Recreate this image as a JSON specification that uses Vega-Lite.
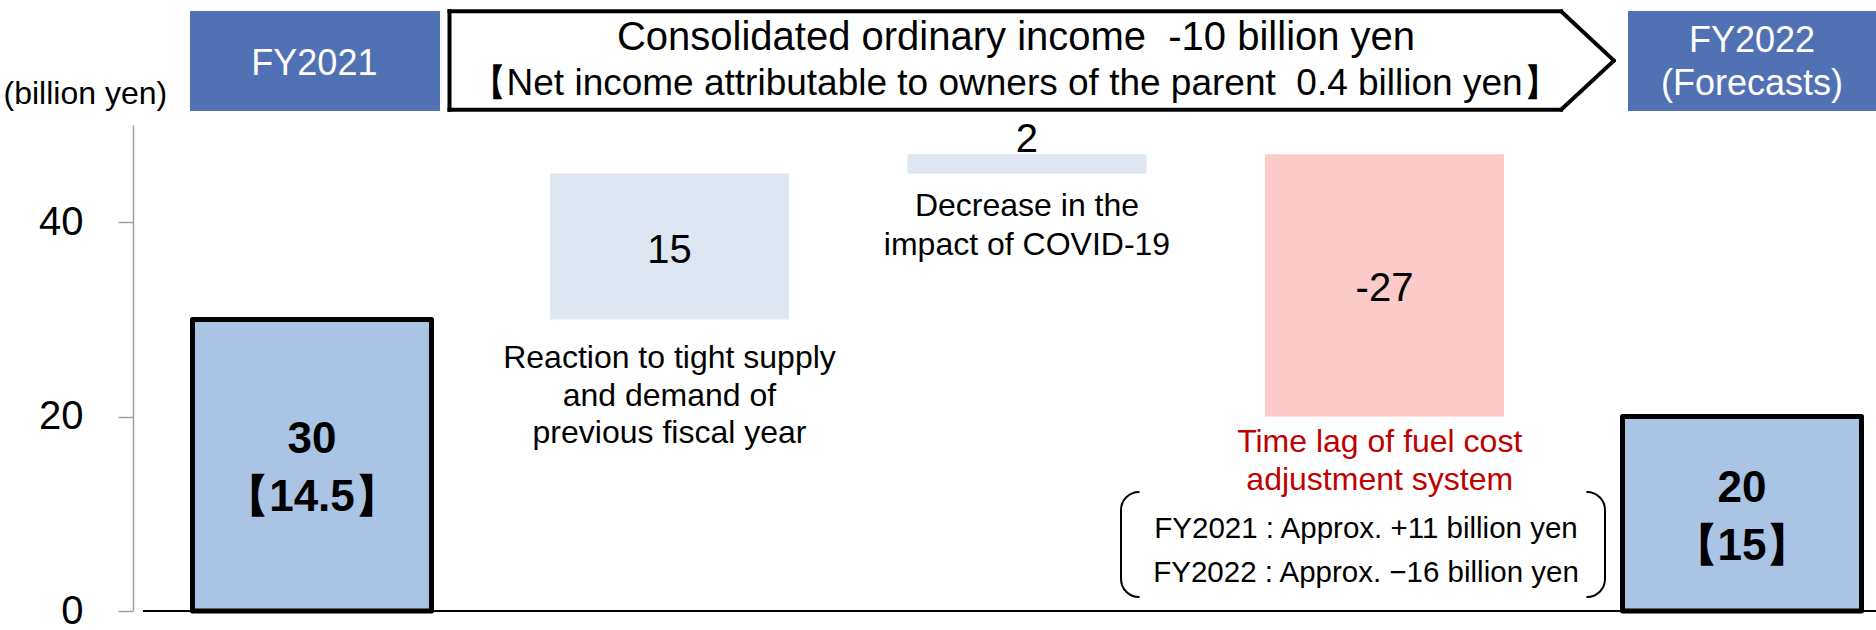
{
  "$schema": "https://vega.github.io/schema/vega-lite/v6.json",
  "width": 1743,
  "height": 486,
  "autosize": "none",
  "padding": {"left": 133, "top": 125, "right": 0, "bottom": 19},
  "background": "white",
  "config": {
    "view": {"stroke": null},
    "font": "Liberation Sans",
    "axisY": {
      "grid": false, "domainColor": "#A0A0A0", "domainWidth": 1.5, "tickColor": "#A0A0A0", "tickWidth": 1.5, "tickSize": 15,
      "labelFontSize": 40, "labelColor": "#000000", "labelPadding": 35, "labelFont": "Liberation Sans", "labelFlush": false, "labelOverlap": false,
      "titleAngle": 0, "titleAlign": "left", "titleBaseline": "alphabetic", "titleX": -130, "titleY": -22,
      "titleFontSize": 32, "titleFontWeight": "normal", "titleColor": "#000000", "titleFont": "Liberation Sans"
    }
  },
  "datasets": {
    "bars": [
      {"step": "FY2021", "start": 0, "end": 30, "kind": "total", "label": "30\n【14.5】", "header": "FY2021"},
      {"step": "Reaction to tight supply and demand of previous fiscal year", "start": 30, "end": 45, "kind": "increase", "label": "15", "note": "Reaction to tight supply\nand demand of\nprevious fiscal year"},
      {"step": "Decrease in the impact of COVID-19", "start": 45, "end": 47, "kind": "increase", "label": "2", "note": "Decrease in the\nimpact of COVID-19"},
      {"step": "Time lag of fuel cost adjustment system", "start": 47, "end": 20, "kind": "decrease", "label": "-27", "note": "Time lag of fuel cost\nadjustment system", "detail": "FY2021 : Approx. +11 billion yen\nFY2022 : Approx. −16 billion yen"},
      {"step": "FY2022 (Forecasts)", "start": 0, "end": 20, "kind": "total", "label": "20\n【15】", "header": "FY2022\n(Forecasts)"}
    ],
    "summary": [
      {"line": 1, "text": "Consolidated ordinary income\u00a0 -10 billion yen"},
      {"line": 2, "text": "【Net income attributable to owners of the parent\u00a0 0.4 billion yen】"}
    ],
    "blank": [{}]
  },
  "data": {"name": "bars"},
  "layer": [
    {
      "data": {"name": "blank"},
      "mark": {"type": "rule", "color": "#000000", "strokeWidth": 2},
      "encoding": {
        "x": {"datum": "FY2021", "type": "nominal", "bandPosition": -0.207, "scale": {"domain": ["FY2021", "Reaction to tight supply and demand of previous fiscal year", "Decrease in the impact of COVID-19", "Time lag of fuel cost adjustment system", "FY2022 (Forecasts)"]}, "axis": null},
        "x2": {"datum": "FY2022 (Forecasts)", "bandPosition": 1.07},
        "y": {"datum": 0, "type": "quantitative", "scale": {"domain": [0, 50]}, "axis": {"title": "(billion yen)", "values": [0, 20, 40]}}
      }
    },
    {
      "mark": {"type": "bar", "strokeWidth": 5, "strokeJoin": "round"},
      "encoding": {
        "x": {"field": "step", "type": "nominal", "scale": {"domain": ["FY2021", "Reaction to tight supply and demand of previous fiscal year", "Decrease in the impact of COVID-19", "Time lag of fuel cost adjustment system", "FY2022 (Forecasts)"], "paddingInner": 0.3315, "paddingOuter": 0.1035, "align": 0.804, "round": false}, "axis": null},
        "y": {"field": "start", "type": "quantitative", "scale": {"domain": [0, 50], "nice": false}, "axis": {"title": "(billion yen)", "values": [0, 20, 40]}},
        "y2": {"field": "end"},
        "color": {"field": "kind", "type": "nominal", "scale": {"domain": ["total", "increase", "decrease"], "range": ["#A9C4E4", "#DEE6F1", "#FDCACA"]}, "legend": null},
        "stroke": {"field": "kind", "type": "nominal", "scale": {"domain": ["total", "increase", "decrease"], "range": ["#000000", "transparent", "transparent"]}, "legend": null}
      }
    },
    {
      "transform": [
        {"filter": {"field": "kind", "equal": "total"}},
        {"fold": ["start", "end"], "as": ["edge", "value"]},
        {"aggregate": [{"op": "mean", "field": "value", "as": "mid"}], "groupby": ["step", "label"]}
      ],
      "mark": {"type": "text", "fontSize": 44, "fontWeight": "bold", "baseline": "middle", "lineBreak": "\n", "lineHeight": 58, "dy": -25, "color": "#000000"},
      "encoding": {
        "x": {"field": "step", "type": "nominal", "scale": {"domain": ["FY2021", "Reaction to tight supply and demand of previous fiscal year", "Decrease in the impact of COVID-19", "Time lag of fuel cost adjustment system", "FY2022 (Forecasts)"]}, "axis": null},
        "y": {"field": "mid", "type": "quantitative", "scale": {"domain": [0, 50]}, "axis": {"title": "(billion yen)", "values": [0, 20, 40]}},
        "text": {"field": "label"}
      }
    },
    {
      "transform": [
        {"filter": {"field": "step", "oneOf": ["Reaction to tight supply and demand of previous fiscal year", "Time lag of fuel cost adjustment system"]}},
        {"fold": ["start", "end"], "as": ["edge", "value"]},
        {"aggregate": [{"op": "mean", "field": "value", "as": "mid"}], "groupby": ["step", "label"]}
      ],
      "mark": {"type": "text", "fontSize": 40, "baseline": "middle", "dy": 4, "color": "#000000"},
      "encoding": {
        "x": {"field": "step", "type": "nominal", "scale": {"domain": ["FY2021", "Reaction to tight supply and demand of previous fiscal year", "Decrease in the impact of COVID-19", "Time lag of fuel cost adjustment system", "FY2022 (Forecasts)"]}, "axis": null},
        "y": {"field": "mid", "type": "quantitative", "scale": {"domain": [0, 50]}, "axis": {"title": "(billion yen)", "values": [0, 20, 40]}},
        "text": {"field": "label"}
      }
    },
    {
      "transform": [{"filter": {"field": "step", "equal": "Decrease in the impact of COVID-19"}}],
      "mark": {"type": "text", "fontSize": 40, "baseline": "alphabetic", "dy": -2, "color": "#000000"},
      "encoding": {
        "x": {"field": "step", "type": "nominal", "scale": {"domain": ["FY2021", "Reaction to tight supply and demand of previous fiscal year", "Decrease in the impact of COVID-19", "Time lag of fuel cost adjustment system", "FY2022 (Forecasts)"]}, "axis": null},
        "y": {"field": "end", "type": "quantitative", "scale": {"domain": [0, 50]}, "axis": {"title": "(billion yen)", "values": [0, 20, 40]}},
        "text": {"field": "label"}
      }
    },
    {
      "transform": [{"filter": {"field": "step", "equal": "Reaction to tight supply and demand of previous fiscal year"}}],
      "mark": {"type": "text", "fontSize": 32, "baseline": "alphabetic", "lineBreak": "\n", "lineHeight": 37.5, "dy": 49, "color": "#000000"},
      "encoding": {
        "x": {"field": "step", "type": "nominal", "scale": {"domain": ["FY2021", "Reaction to tight supply and demand of previous fiscal year", "Decrease in the impact of COVID-19", "Time lag of fuel cost adjustment system", "FY2022 (Forecasts)"]}, "axis": null},
        "y": {"field": "start", "type": "quantitative", "scale": {"domain": [0, 50]}, "axis": {"title": "(billion yen)", "values": [0, 20, 40]}},
        "text": {"field": "note"}
      }
    },
    {
      "transform": [{"filter": {"field": "step", "equal": "Decrease in the impact of COVID-19"}}],
      "mark": {"type": "text", "fontSize": 32, "baseline": "alphabetic", "lineBreak": "\n", "lineHeight": 39, "dy": 42, "color": "#000000"},
      "encoding": {
        "x": {"field": "step", "type": "nominal", "scale": {"domain": ["FY2021", "Reaction to tight supply and demand of previous fiscal year", "Decrease in the impact of COVID-19", "Time lag of fuel cost adjustment system", "FY2022 (Forecasts)"]}, "axis": null},
        "y": {"field": "start", "type": "quantitative", "scale": {"domain": [0, 50]}, "axis": {"title": "(billion yen)", "values": [0, 20, 40]}},
        "text": {"field": "note"}
      }
    },
    {
      "data": {"name": "blank"},
      "mark": {"type": "rect", "filled": false, "stroke": "#000000", "strokeWidth": 2, "cornerRadius": 18},
      "encoding": {
        "x": {"datum": "Time lag of fuel cost adjustment system", "type": "nominal", "bandPosition": -0.6025, "scale": {"domain": ["FY2021", "Reaction to tight supply and demand of previous fiscal year", "Decrease in the impact of COVID-19", "Time lag of fuel cost adjustment system", "FY2022 (Forecasts)"]}, "axis": null},
        "x2": {"datum": "Time lag of fuel cost adjustment system", "bandPosition": 1.4226},
        "y": {"datum": 12.24, "type": "quantitative", "scale": {"domain": [0, 50]}, "axis": {"title": "(billion yen)", "values": [0, 20, 40]}},
        "y2": {"datum": 1.44}
      }
    },
    {
      "data": {"name": "blank"},
      "mark": {"type": "rule", "color": "#FFFFFF", "strokeWidth": 5},
      "encoding": {
        "x": {"datum": "Time lag of fuel cost adjustment system", "type": "nominal", "bandPosition": -0.525, "scale": {"domain": ["FY2021", "Reaction to tight supply and demand of previous fiscal year", "Decrease in the impact of COVID-19", "Time lag of fuel cost adjustment system", "FY2022 (Forecasts)"]}, "axis": null},
        "x2": {"datum": "Time lag of fuel cost adjustment system", "bandPosition": 1.345},
        "y": {"datum": 12.24, "type": "quantitative", "scale": {"domain": [0, 50]}, "axis": {"title": "(billion yen)", "values": [0, 20, 40]}}
      }
    },
    {
      "data": {"name": "blank"},
      "mark": {"type": "rule", "color": "#FFFFFF", "strokeWidth": 5},
      "encoding": {
        "x": {"datum": "Time lag of fuel cost adjustment system", "type": "nominal", "bandPosition": -0.525, "scale": {"domain": ["FY2021", "Reaction to tight supply and demand of previous fiscal year", "Decrease in the impact of COVID-19", "Time lag of fuel cost adjustment system", "FY2022 (Forecasts)"]}, "axis": null},
        "x2": {"datum": "Time lag of fuel cost adjustment system", "bandPosition": 1.345},
        "y": {"datum": 1.44, "type": "quantitative", "scale": {"domain": [0, 50]}, "axis": {"title": "(billion yen)", "values": [0, 20, 40]}}
      }
    },
    {
      "transform": [{"filter": {"field": "step", "equal": "Time lag of fuel cost adjustment system"}}],
      "mark": {"type": "text", "fontSize": 32, "baseline": "alphabetic", "lineBreak": "\n", "lineHeight": 38, "dy": 35, "color": "#C00000"},
      "encoding": {
        "x": {"field": "step", "type": "nominal", "bandPosition": 0.48, "scale": {"domain": ["FY2021", "Reaction to tight supply and demand of previous fiscal year", "Decrease in the impact of COVID-19", "Time lag of fuel cost adjustment system", "FY2022 (Forecasts)"]}, "axis": null},
        "y": {"field": "end", "type": "quantitative", "scale": {"domain": [0, 50]}, "axis": {"title": "(billion yen)", "values": [0, 20, 40]}},
        "text": {"field": "note"}
      }
    },
    {
      "transform": [{"filter": {"field": "step", "equal": "Time lag of fuel cost adjustment system"}}],
      "mark": {"type": "text", "fontSize": 29.5, "baseline": "alphabetic", "lineBreak": "\n", "lineHeight": 44, "dy": 121, "color": "#000000"},
      "encoding": {
        "x": {"field": "step", "type": "nominal", "bandPosition": 0.4226, "scale": {"domain": ["FY2021", "Reaction to tight supply and demand of previous fiscal year", "Decrease in the impact of COVID-19", "Time lag of fuel cost adjustment system", "FY2022 (Forecasts)"]}, "axis": null},
        "y": {"field": "end", "type": "quantitative", "scale": {"domain": [0, 50]}, "axis": {"title": "(billion yen)", "values": [0, 20, 40]}},
        "text": {"field": "detail"}
      }
    },
    {
      "transform": [{"filter": {"field": "step", "equal": "FY2021"}}],
      "mark": {"type": "rect", "color": "#5171B5"},
      "encoding": {
        "x": {"field": "step", "type": "nominal", "bandPosition": -0.0105, "scale": {"domain": ["FY2021", "Reaction to tight supply and demand of previous fiscal year", "Decrease in the impact of COVID-19", "Time lag of fuel cost adjustment system", "FY2022 (Forecasts)"]}, "axis": null},
        "x2": {"field": "step", "bandPosition": 1.0356},
        "y": {"datum": 61.73, "type": "quantitative", "scale": {"domain": [0, 50]}, "axis": {"title": "(billion yen)", "values": [0, 20, 40]}},
        "y2": {"datum": 51.44}
      }
    },
    {
      "transform": [{"filter": {"field": "step", "equal": "FY2022 (Forecasts)"}}],
      "mark": {"type": "rect", "color": "#5171B5"},
      "encoding": {
        "x": {"field": "step", "type": "nominal", "bandPosition": 0.023, "scale": {"domain": ["FY2021", "Reaction to tight supply and demand of previous fiscal year", "Decrease in the impact of COVID-19", "Time lag of fuel cost adjustment system", "FY2022 (Forecasts)"]}, "axis": null},
        "x2": {"field": "step", "bandPosition": 1.07},
        "y": {"datum": 61.73, "type": "quantitative", "scale": {"domain": [0, 50]}, "axis": {"title": "(billion yen)", "values": [0, 20, 40]}},
        "y2": {"datum": 51.44}
      }
    },
    {
      "transform": [{"filter": {"field": "step", "equal": "FY2021"}}],
      "mark": {"type": "text", "fontSize": 36, "baseline": "alphabetic", "color": "#FFFFFF"},
      "encoding": {
        "x": {"field": "step", "type": "nominal", "bandPosition": 0.51, "scale": {"domain": ["FY2021", "Reaction to tight supply and demand of previous fiscal year", "Decrease in the impact of COVID-19", "Time lag of fuel cost adjustment system", "FY2022 (Forecasts)"]}, "axis": null},
        "y": {"datum": 55.14, "type": "quantitative", "scale": {"domain": [0, 50]}, "axis": {"title": "(billion yen)", "values": [0, 20, 40]}},
        "text": {"field": "header"}
      }
    },
    {
      "transform": [{"filter": {"field": "step", "equal": "FY2022 (Forecasts)"}}],
      "mark": {"type": "text", "fontSize": 36, "baseline": "alphabetic", "lineBreak": "\n", "lineHeight": 43, "color": "#FFFFFF"},
      "encoding": {
        "x": {"field": "step", "type": "nominal", "bandPosition": 0.542, "scale": {"domain": ["FY2021", "Reaction to tight supply and demand of previous fiscal year", "Decrease in the impact of COVID-19", "Time lag of fuel cost adjustment system", "FY2022 (Forecasts)"]}, "axis": null},
        "y": {"datum": 57.51, "type": "quantitative", "scale": {"domain": [0, 50]}, "axis": {"title": "(billion yen)", "values": [0, 20, 40]}},
        "text": {"field": "header"}
      }
    },
    {
      "data": {"name": "blank"},
      "mark": {"type": "rule", "color": "#000000", "strokeWidth": 4, "strokeCap": "square"},
      "encoding": {
        "x": {"datum": "Reaction to tight supply and demand of previous fiscal year", "type": "nominal", "bandPosition": -0.4205, "scale": {"domain": ["FY2021", "Reaction to tight supply and demand of previous fiscal year", "Decrease in the impact of COVID-19", "Time lag of fuel cost adjustment system", "FY2022 (Forecasts)"]}, "axis": null},
        "x2": {"datum": "FY2022 (Forecasts)", "bandPosition": -0.2573},
        "y": {"datum": 61.7, "type": "quantitative", "scale": {"domain": [0, 50]}, "axis": {"title": "(billion yen)", "values": [0, 20, 40]}}
      }
    },
    {
      "data": {"name": "blank"},
      "mark": {"type": "rule", "color": "#000000", "strokeWidth": 4, "strokeCap": "square"},
      "encoding": {
        "x": {"datum": "Reaction to tight supply and demand of previous fiscal year", "type": "nominal", "bandPosition": -0.4205, "scale": {"domain": ["FY2021", "Reaction to tight supply and demand of previous fiscal year", "Decrease in the impact of COVID-19", "Time lag of fuel cost adjustment system", "FY2022 (Forecasts)"]}, "axis": null},
        "x2": {"datum": "FY2022 (Forecasts)", "bandPosition": -0.2573},
        "y": {"datum": 51.57, "type": "quantitative", "scale": {"domain": [0, 50]}, "axis": {"title": "(billion yen)", "values": [0, 20, 40]}}
      }
    },
    {
      "data": {"name": "blank"},
      "mark": {"type": "rule", "color": "#000000", "strokeWidth": 4, "strokeCap": "square"},
      "encoding": {
        "x": {"datum": "Reaction to tight supply and demand of previous fiscal year", "type": "nominal", "bandPosition": -0.4205, "scale": {"domain": ["FY2021", "Reaction to tight supply and demand of previous fiscal year", "Decrease in the impact of COVID-19", "Time lag of fuel cost adjustment system", "FY2022 (Forecasts)"]}, "axis": null},
        "y": {"datum": 51.57, "type": "quantitative", "scale": {"domain": [0, 50]}, "axis": {"title": "(billion yen)", "values": [0, 20, 40]}},
        "y2": {"datum": 61.7}
      }
    },
    {
      "data": {"name": "blank"},
      "mark": {"type": "rule", "color": "#000000", "strokeWidth": 4, "strokeCap": "round"},
      "encoding": {
        "x": {"datum": "FY2022 (Forecasts)", "type": "nominal", "bandPosition": -0.2573, "scale": {"domain": ["FY2021", "Reaction to tight supply and demand of previous fiscal year", "Decrease in the impact of COVID-19", "Time lag of fuel cost adjustment system", "FY2022 (Forecasts)"]}, "axis": null},
        "x2": {"datum": "FY2022 (Forecasts)", "bandPosition": -0.0356},
        "y": {"datum": 61.7, "type": "quantitative", "scale": {"domain": [0, 50]}, "axis": {"title": "(billion yen)", "values": [0, 20, 40]}},
        "y2": {"datum": 56.62}
      }
    },
    {
      "data": {"name": "blank"},
      "mark": {"type": "rule", "color": "#000000", "strokeWidth": 4, "strokeCap": "round"},
      "encoding": {
        "x": {"datum": "FY2022 (Forecasts)", "type": "nominal", "bandPosition": -0.2573, "scale": {"domain": ["FY2021", "Reaction to tight supply and demand of previous fiscal year", "Decrease in the impact of COVID-19", "Time lag of fuel cost adjustment system", "FY2022 (Forecasts)"]}, "axis": null},
        "x2": {"datum": "FY2022 (Forecasts)", "bandPosition": -0.0356},
        "y": {"datum": 51.57, "type": "quantitative", "scale": {"domain": [0, 50]}, "axis": {"title": "(billion yen)", "values": [0, 20, 40]}},
        "y2": {"datum": 56.62}
      }
    },
    {
      "data": {"name": "summary"},
      "transform": [{"filter": {"field": "line", "equal": 1}}],
      "mark": {"type": "text", "fontSize": 40, "baseline": "alphabetic", "color": "#000000"},
      "encoding": {
        "x": {"datum": "Decrease in the impact of COVID-19", "type": "nominal", "bandPosition": 0.454, "scale": {"domain": ["FY2021", "Reaction to tight supply and demand of previous fiscal year", "Decrease in the impact of COVID-19", "Time lag of fuel cost adjustment system", "FY2022 (Forecasts)"]}, "axis": null},
        "y": {"datum": 57.72, "type": "quantitative", "scale": {"domain": [0, 50]}, "axis": {"title": "(billion yen)", "values": [0, 20, 40]}},
        "text": {"field": "text"}
      }
    },
    {
      "data": {"name": "summary"},
      "transform": [{"filter": {"field": "line", "equal": 2}}],
      "mark": {"type": "text", "fontSize": 37, "baseline": "alphabetic", "color": "#000000"},
      "encoding": {
        "x": {"datum": "Decrease in the impact of COVID-19", "type": "nominal", "bandPosition": 0.448, "scale": {"domain": ["FY2021", "Reaction to tight supply and demand of previous fiscal year", "Decrease in the impact of COVID-19", "Time lag of fuel cost adjustment system", "FY2022 (Forecasts)"]}, "axis": null},
        "y": {"datum": 53.09, "type": "quantitative", "scale": {"domain": [0, 50]}, "axis": {"title": "(billion yen)", "values": [0, 20, 40]}},
        "text": {"field": "text"}
      }
    }
  ]
}
